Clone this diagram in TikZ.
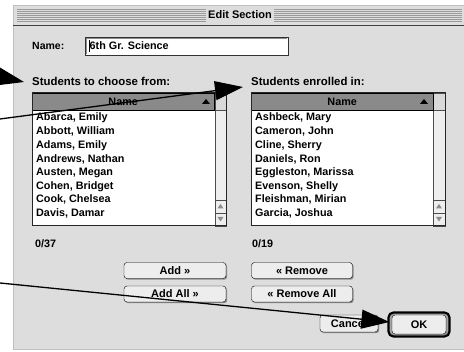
\documentclass[tikz,border=0pt]{standalone}
\usepackage{fontspec}
\setmainfont{Liberation Sans}
\usepackage{xcolor}
\usetikzlibrary{arrows.meta, positioning, calc, shadows}

\definecolor{winbg}{HTML}{DDDDDD}
\definecolor{hdrgray}{HTML}{8A8A8A}
\definecolor{trackgray}{HTML}{EEEEEE}
\definecolor{stripegray}{HTML}{9A9A9A}
\definecolor{btnfill}{HTML}{EDEDED}

\begin{document}
\begin{tikzpicture}[x=1pt, y=-1pt, font=\bfseries\fontsize{10.8}{12}\selectfont]

% =========================
% Styles (ALL IN ONE BLOCK)
% =========================
\tikzset{
    label/.style={inner sep=0pt, anchor=west},
    biglabel/.style={label, font=\bfseries\fontsize{11.4}{13}\selectfont},
    listhdr/.style={draw=black, fill=hdrgray, inner sep=0pt, anchor=north west, minimum width=182pt, minimum height=17pt},
    button/.style={draw=black, fill=btnfill, rounded corners=3pt, inner sep=0pt, minimum height=16pt,
        font=\bfseries\fontsize{11}{12}\selectfont,
        drop shadow={shadow xshift=1.2pt, shadow yshift=-1.2pt, fill=black!45, opacity=1}},
    stripe/.style={draw=stripegray, line width=0.9pt},
    scrollbox/.style={draw=black!70, fill=trackgray, line width=0.6pt},
    pointer/.style={-{Triangle[length=28pt, width=19pt]}, line width=1.3pt, black}
}

\useasboundingbox (0,0) rectangle (464,352);
\clip (0,0) rectangle (464,352);

% =========================
% Window and title bar
% =========================
\fill[white] (0,0) rectangle (464,352);
\fill[winbg] (13,5) rectangle (470,350);
\draw[black!25, line width=0.8pt] (13,350) -- (13,5) -- (470,5);
\draw[black!25, line width=0.8pt] (13,349.5) -- (470,349.5);
\fill[winbg] (14,6) rectangle (470,25);
\foreach \y in {9,11,...,21} {
    \draw[stripe] (17,\y) -- (206,\y);
    \draw[stripe] (274,\y) -- (462,\y);
}
\draw[black!75, line width=1pt] (13,25.5) -- (470,25.5);
\node[font=\bfseries\fontsize{11}{13}\selectfont, inner sep=0pt] (title) at (240,15) {Edit Section};

% =========================
% Name field
% =========================
\node[label, font=\bfseries\fontsize{10.5}{12}\selectfont] (namelbl) at (32,46) {Name:};
\node[draw=black!80, fill=white, line width=1pt, anchor=north west, minimum width=203pt, minimum height=18pt,
      inner sep=0pt] (namebox) at (85,37) {};
\draw[black!45, line width=0.8pt] (86.5,54) -- (86.5,38.5) -- (287,38.5);
\node[label] (nameval) at (89.5,46) {6th Gr. Science};
\draw[line width=0.6pt] (89,40) -- (89,52);

% =========================
% List captions
% =========================
\node[biglabel] (choose) at (32,81) {Students to choose from:};
\node[biglabel] (enrolled) at (251,81) {Students enrolled in:};

% =========================
% Left list
% =========================
\begin{scope}[shift={(32,93)}]
    \fill[white] (0,17) rectangle (183,133);
    \draw[scrollbox] (183,17) rectangle (194,107);
    \draw[scrollbox] (183,107) rectangle (194,120);
    \draw[scrollbox] (183,120) rectangle (194,133);
    \fill[black!45] (185.5,115.5) -- (191.5,115.5) -- (188.5,111) -- cycle;
    \fill[black!45] (185.5,124) -- (191.5,124) -- (188.5,128.5) -- cycle;
    \draw[fill=black!15, draw=black!70] (183,0) rectangle (194,17);
    \node[listhdr] (lefthdr) at (0,0) {Name};
    \fill[black] (170,11) -- (178,11) -- (174,6) -- cycle;
    \foreach \n [count=\i from 0] in {{Abarca, Emily},{Abbott, William},{Adams, Emily},{Andrews, Nathan},
                                      {Austen, Megan},{Cohen, Bridget},{Cook, Chelsea},{Davis, Damar}} {
        \node[label] at (4,25+13.65*\i) {\n};
    }
    \draw[black!85, line width=1pt] (0,0) rectangle (194,133);
\end{scope}

% =========================
% Right list
% =========================
\begin{scope}[shift={(251,93)}]
    \fill[white] (0,17) rectangle (182,133);
    \draw[scrollbox] (182,17) rectangle (194,107);
    \draw[scrollbox] (182,107) rectangle (194,120);
    \draw[scrollbox] (182,120) rectangle (194,133);
    \fill[black!45] (185,115.5) -- (191,115.5) -- (188,111) -- cycle;
    \fill[black!45] (185,124) -- (191,124) -- (188,128.5) -- cycle;
    \draw[fill=black!15, draw=black!70] (182,0) rectangle (194,17);
    \node[listhdr] (righthdr) at (0,0) {Name};
    \fill[black] (169,11) -- (177,11) -- (173,6) -- cycle;
    \foreach \n [count=\i from 0] in {{Ashbeck, Mary},{Cameron, John},{Cline, Sherry},{Daniels, Ron},
                                      {Eggleston, Marissa},{Evenson, Shelly},{Fleishman, Mirian},{Garcia, Joshua}} {
        \node[label] at (4,25+13.65*\i) {\n};
    }
    \draw[black!85, line width=1pt] (0,0) rectangle (194,133);
\end{scope}

% =========================
% Counters
% =========================
\node[label] (leftcount) at (35,244) {0/37};
\node[label] (rightcount) at (252,244) {0/19};

% =========================
% Buttons
% =========================
\node[button, minimum width=102pt] (add) at (175,270.5) {Add »};
\node[button, minimum width=102pt] (addall) at (175,294) {Add All »};
\node[button, minimum width=101pt] (remove) at (302,270.5) {« Remove};
\node[button, minimum width=101pt] (removeall) at (302,294) {« Remove All};
\node[button, minimum width=58pt, minimum height=17pt] (cancel) at (349,323.5) {Cancel};
\node[draw=black, line width=2.2pt, fill=black!35, rounded corners=5pt, minimum width=61pt, minimum height=24pt,
      inner sep=0pt] (okring) at (419,324.5) {};
\node[button, minimum width=54pt, minimum height=19pt] (ok) at (419,324.5) {OK};

% =========================
% Pointer arrows
% =========================
\coordinate (src1) at (-70,62);
\coordinate (src2) at (-10,120.3);
\coordinate (src3) at (-10,282);
\draw[pointer] (src1) -- ($(choose.west)+(-8,1)$);
\draw[pointer] (src2) -- ($(enrolled.west)+(-8,6)$);
\draw[pointer] (src3) -- ($(okring.west)+(2,-2.5)$);

\end{tikzpicture}
\end{document}
